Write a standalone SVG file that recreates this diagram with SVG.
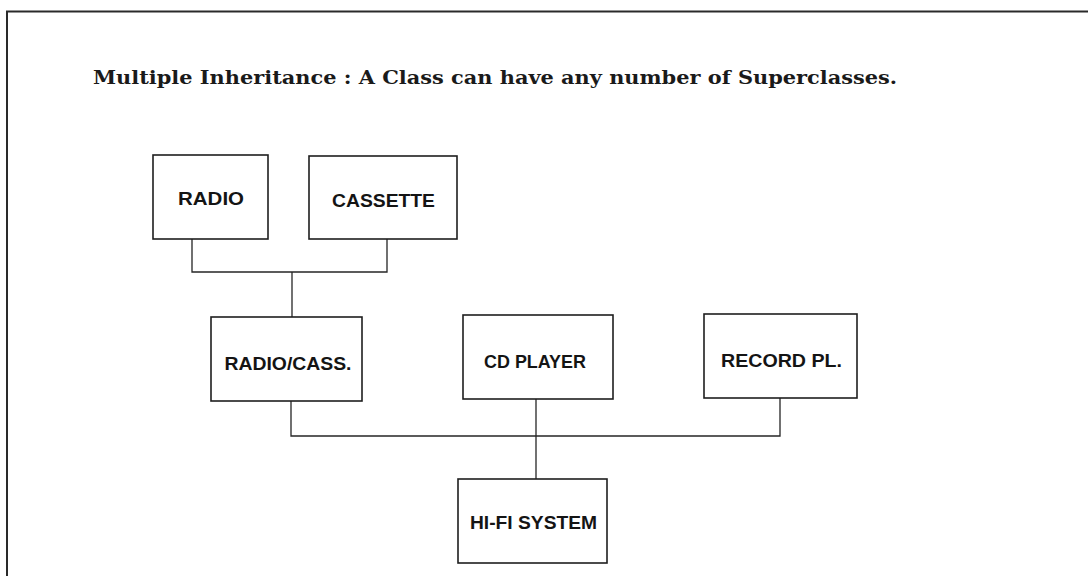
<svg xmlns="http://www.w3.org/2000/svg" width="1088" height="576" viewBox="0 0 1088 576">
  <style>
    .frame { fill: none; stroke: #2a2a2a; stroke-width: 2; }
    .box { fill: #ffffff; stroke: #1e1e1e; stroke-width: 1.6; }
    .wire { fill: none; stroke: #262626; stroke-width: 1.3; }
    .label { font-family: "Liberation Sans", Arial, sans-serif; font-weight: bold; font-size: 18px; fill: #141414; text-anchor: middle; }
    .title { font-family: "DejaVu Serif", "Liberation Serif", serif; font-weight: bold; font-size: 19px; fill: #1a1a1a; }
  </style>

  <rect x="0" y="0" width="1088" height="576" fill="#ffffff"/>

  <!-- page frame: top rule and left rule -->
  <path class="frame" d="M7,576 V11.5 H1088"/>

  <text class="title" x="93" y="84" textLength="804" lengthAdjust="spacingAndGlyphs">Multiple Inheritance : A Class can have any number of Superclasses.</text>

  <!-- inheritance connectors -->
  <g id="connectors">
    <path class="wire" d="M192,239 V272 H387 V239"/>
    <path class="wire" d="M292,272 V317"/>
    <path class="wire" d="M291,401 V436 H780 V398"/>
    <path class="wire" d="M536,399 V479"/>
  </g>

  <g id="radio">
    <rect class="box" x="153" y="155" width="115" height="84"/>
    <text class="label" x="211" y="205" textLength="66" lengthAdjust="spacingAndGlyphs">RADIO</text>
  </g>

  <g id="cassette">
    <rect class="box" x="309" y="156" width="148" height="83"/>
    <text class="label" x="383.5" y="207" textLength="103" lengthAdjust="spacingAndGlyphs">CASSETTE</text>
  </g>

  <g id="radio-cass">
    <rect class="box" x="211" y="317" width="151" height="84"/>
    <text class="label" x="288" y="370" textLength="127" lengthAdjust="spacingAndGlyphs">RADIO/CASS.</text>
  </g>

  <g id="cd-player">
    <rect class="box" x="463" y="315" width="150" height="84"/>
    <text class="label" x="535" y="368" textLength="102" lengthAdjust="spacingAndGlyphs">CD PLAYER</text>
  </g>

  <g id="record-player">
    <rect class="box" x="704" y="314" width="153" height="84"/>
    <text class="label" x="781.5" y="367" textLength="121" lengthAdjust="spacingAndGlyphs">RECORD PL.</text>
  </g>

  <g id="hifi-system">
    <rect class="box" x="458" y="479" width="149" height="84"/>
    <text class="label" x="533.5" y="529" textLength="127" lengthAdjust="spacingAndGlyphs">HI-FI SYSTEM</text>
  </g>
</svg>
